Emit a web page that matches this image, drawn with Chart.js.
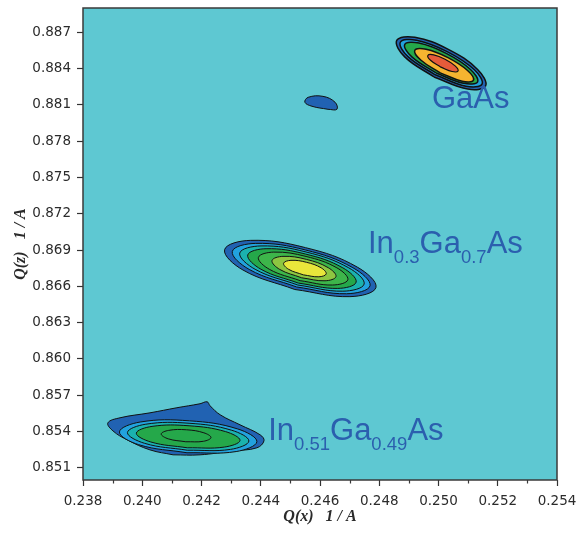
<!DOCTYPE html>
<html>
<head>
<meta charset="utf-8">
<title>Reciprocal space map</title>
<script src="https://cdn.jsdelivr.net/npm/chart.js@4.4.0/dist/chart.umd.min.js"></script>
<style>
  html, body { margin: 0; padding: 0; background: #fff; }
  #wrap { width: 577px; height: 533px; }
</style>
</head>
<body>
<div id="wrap"><canvas id="rsm" width="577" height="533"></canvas></div>
<script>
  // Axis ticks
  const xTicks = [0.238, 0.240, 0.242, 0.244, 0.246, 0.248, 0.250, 0.252, 0.254];
  const xMinorTicks = [0.239, 0.241, 0.243, 0.245, 0.247, 0.249, 0.251, 0.253];
  const yTicks = [0.851, 0.854, 0.857, 0.860, 0.863, 0.866, 0.869, 0.872, 0.875, 0.878, 0.881, 0.884, 0.887];

  // GaAs substrate peak, contours from outer to inner, [Qx, Qz]
  const gaasBlue = [[0.25159, 0.88256], [0.25099, 0.88230], [0.24985, 0.88330], [0.24886, 0.88496], [0.24859, 0.88632], [0.24920, 0.88658], [0.25033, 0.88558], [0.25132, 0.88392]];
  const gaasLightBlue = [[0.25147, 0.88271], [0.25093, 0.88254], [0.24989, 0.88348], [0.24897, 0.88498], [0.24871, 0.88617], [0.24925, 0.88634], [0.25029, 0.88540], [0.25121, 0.88390]];
  const gaasGreen = [[0.25132, 0.88290], [0.25084, 0.88278], [0.24992, 0.88363], [0.24910, 0.88496], [0.24886, 0.88598], [0.24934, 0.88610], [0.25026, 0.88525], [0.25108, 0.88392]];
  const gaasYellow = [[0.25118, 0.88303], [0.25080, 0.88295], [0.25006, 0.88364], [0.24940, 0.88470], [0.24920, 0.88551], [0.24958, 0.88559], [0.25032, 0.88490], [0.25098, 0.88384]];
  const gaasRed = [[0.25066, 0.88380], [0.25046, 0.88375], [0.25008, 0.88411], [0.24974, 0.88466], [0.24964, 0.88508], [0.24984, 0.88513], [0.25022, 0.88477], [0.25056, 0.88422]];
  // small spot next to GaAs
  const spotBlue = [[0.24549, 0.88121], [0.24560, 0.88162], [0.24610, 0.88170], [0.24651, 0.88121], [0.24657, 0.88063], [0.24627, 0.88063], [0.24573, 0.88088]];

  // In0.3Ga0.7As layer peak
  const in30Blue = [[0.24789, 0.86591], [0.24701, 0.86515], [0.24515, 0.86574], [0.24340, 0.86735], [0.24278, 0.86903], [0.24365, 0.86980], [0.24551, 0.86920], [0.24726, 0.86759]];
  const in30LightBlue = [[0.24769, 0.86605], [0.24689, 0.86539], [0.24521, 0.86595], [0.24361, 0.86740], [0.24304, 0.86889], [0.24383, 0.86955], [0.24552, 0.86900], [0.24711, 0.86754]];
  const in30Teal = [[0.24749, 0.86619], [0.24677, 0.86560], [0.24525, 0.86611], [0.24381, 0.86741], [0.24329, 0.86875], [0.24401, 0.86934], [0.24553, 0.86884], [0.24697, 0.86753]];
  const in30Green = [[0.24722, 0.86635], [0.24660, 0.86583], [0.24527, 0.86627], [0.24401, 0.86741], [0.24356, 0.86859], [0.24418, 0.86911], [0.24551, 0.86867], [0.24677, 0.86753]];
  const in30Green2 = [[0.24694, 0.86655], [0.24642, 0.86611], [0.24533, 0.86647], [0.24429, 0.86741], [0.24392, 0.86839], [0.24444, 0.86883], [0.24553, 0.86847], [0.24657, 0.86753]];
  const in30LightGreen = [[0.24654, 0.86681], [0.24617, 0.86646], [0.24538, 0.86671], [0.24464, 0.86740], [0.24438, 0.86813], [0.24475, 0.86848], [0.24554, 0.86823], [0.24628, 0.86754]];
  const in30Yellow = [[0.24621, 0.86703], [0.24596, 0.86679], [0.24544, 0.86695], [0.24494, 0.86741], [0.24477, 0.86791], [0.24502, 0.86815], [0.24554, 0.86799], [0.24604, 0.86753]];

  // In0.51Ga0.49As layer peak
  const in51Blue = [[0.23884, 0.85472], [0.23925, 0.85514], [0.24026, 0.85555], [0.24117, 0.85597], [0.24195, 0.85630], [0.24219, 0.85646], [0.24229, 0.85613], [0.24263, 0.85539], [0.24330, 0.85456], [0.24398, 0.85373], [0.24411, 0.85324], [0.24387, 0.85266], [0.24306, 0.85241], [0.24195, 0.85208], [0.24104, 0.85208], [0.24026, 0.85249], [0.23949, 0.85332], [0.23901, 0.85406]];
  const in51LightBlue = [[0.24387, 0.85317], [0.24317, 0.85235], [0.24151, 0.85225], [0.23988, 0.85292], [0.23923, 0.85397], [0.23993, 0.85479], [0.24159, 0.85489], [0.24322, 0.85422]];
  const in51Teal = [[0.24360, 0.85322], [0.24298, 0.85253], [0.24152, 0.85246], [0.24008, 0.85303], [0.23950, 0.85392], [0.24012, 0.85461], [0.24158, 0.85469], [0.24302, 0.85411]];
  const in51Green = [[0.24330, 0.85327], [0.24277, 0.85272], [0.24152, 0.85266], [0.24029, 0.85314], [0.23980, 0.85387], [0.24033, 0.85443], [0.24158, 0.85448], [0.24281, 0.85400]];
  const in51Core = [[0.24232, 0.85351], [0.24207, 0.85320], [0.24147, 0.85316], [0.24088, 0.85340], [0.24064, 0.85380], [0.24089, 0.85410], [0.24149, 0.85415], [0.24208, 0.85390]];

  // Peak labels: text parts ([text, isSubscript]) and anchor in data units
  const peakLabels = [
    { parts: [["GaAs", 0]], x: 0.24978, y: 0.88071 },
    { parts: [["In", 0], ["0.3", 1], ["Ga", 0], ["0.7", 1], ["As", 0]], x: 0.24762, y: 0.86879 },
    { parts: [["In", 0], ["0.51", 1], ["Ga", 0], ["0.49", 1], ["As", 0]], x: 0.24425, y: 0.85332 },
  ];

  // Colours
  const BG = "#5ec8d2";
  const C_BLUE = "#2162b2";
  const C_LBLUE = "#22a2de";
  const C_TEAL = "#1bb2ae";
  const C_GREEN = "#25a84a";
  const C_GREEN2 = "#3db54a";
  const C_LGREEN = "#8dc641";
  const C_YELLOW = "#e9e63b";
  const C_ORANGE = "#f5b430";
  const C_RED = "#e65b3a";
  const LABEL_BLUE = "#2b5fae";

  // outer -> inner so that inner ones end up on top
  // start: index where the closed path begins (a flat side hides the seam)
  const contours = [
    { pts: gaasBlue, color: C_BLUE, lw: 1.5, start: 2 },
    { pts: gaasLightBlue, color: C_LBLUE, lw: 1.5, start: 2 },
    { pts: gaasGreen, color: C_GREEN, lw: 1.5, start: 2 },
    { pts: gaasYellow, color: C_ORANGE, lw: 1.5, start: 2 },
    { pts: gaasRed, color: C_RED, lw: 1.2, start: 2 },
    { pts: spotBlue, color: C_BLUE, lw: 1, start: 5 },
    { pts: in30Blue, color: C_BLUE, lw: 1, start: 2 },
    { pts: in30LightBlue, color: C_LBLUE, lw: 1, start: 2 },
    { pts: in30Teal, color: C_TEAL, lw: 1, start: 2 },
    { pts: in30Green, color: C_GREEN, lw: 1, start: 2 },
    { pts: in30Green2, color: C_GREEN2, lw: 1, start: 2 },
    { pts: in30LightGreen, color: C_LGREEN, lw: 1, start: 2 },
    { pts: in30Yellow, color: C_YELLOW, lw: 1, start: 2 },
    { pts: in51Blue, color: C_BLUE, lw: 1, start: 14 },
    { pts: in51LightBlue, color: C_LBLUE, lw: 1, start: 2 },
    { pts: in51Teal, color: C_TEAL, lw: 1, start: 2 },
    { pts: in51Green, color: C_GREEN, lw: 1, start: 2 },
    { pts: in51Core, color: C_GREEN, lw: 1, start: 2 },
  ];

  const datasets = contours.map((c, i) => {
    const ring = c.pts.slice(c.start).concat(c.pts.slice(0, c.start + 1));
    return {
      data: ring.map(([x, y]) => ({ x: x, y: y })),
      showLine: true,
      fill: "shape",
      backgroundColor: c.color,
      borderColor: "#111",
      borderWidth: c.lw,
      tension: 0.4,
      pointRadius: 0,
      order: contours.length - i,
    };
  });

  // Background, frame, minor ticks and peak labels
  const decorPlugin = {
    id: "rsmDecor",
    beforeDraw(chart) {
      const { ctx, chartArea: a } = chart;
      ctx.save();
      ctx.fillStyle = "#fff";
      ctx.fillRect(0, 0, chart.width, chart.height);
      ctx.fillStyle = BG;
      ctx.fillRect(a.left, a.top, a.right - a.left, a.bottom - a.top);
      ctx.restore();
    },
    afterDatasetsDraw(chart) {
      const { ctx, chartArea: a, scales } = chart;
      ctx.save();
      ctx.strokeStyle = "#3a3a3a";
      ctx.lineWidth = 1.5;
      ctx.strokeRect(a.left, a.top, a.right - a.left, a.bottom - a.top);

      ctx.lineWidth = 1.2;
      ctx.beginPath();
      xMinorTicks.forEach((v) => {
        const px = Math.round(scales.x.getPixelForValue(v)) + 0.5;
        ctx.moveTo(px, a.bottom);
        ctx.lineTo(px, a.bottom + 3.5);
      });
      ctx.stroke();

      ctx.fillStyle = LABEL_BLUE;
      ctx.textBaseline = "alphabetic";
      peakLabels.forEach((lab) => {
        let px = scales.x.getPixelForValue(lab.x);
        const py = scales.y.getPixelForValue(lab.y);
        lab.parts.forEach(([t, sub]) => {
          ctx.font = sub
            ? '18.5px "Liberation Sans", Arial, sans-serif'
            : '31px "Liberation Sans", Arial, sans-serif';
          ctx.fillText(t, px, sub ? py + 10 : py);
          px += ctx.measureText(t).width;
        });
      });
      ctx.restore();
    },
  };

  const tickFont = { family: '"DejaVu Sans", Verdana, sans-serif', size: 13.5 };
  const titleFont = { family: '"Liberation Serif", "Times New Roman", serif', size: 16, style: "italic", weight: "bold" };

  new Chart(document.getElementById("rsm"), {
    type: "scatter",
    data: { datasets: datasets },
    options: {
      responsive: false,
      animation: false,
      events: [],
      layout: { padding: { top: 8, right: 20, left: 0, bottom: 0 } },
      plugins: {
        legend: { display: false },
        tooltip: { enabled: false },
      },
      scales: {
        x: {
          type: "linear",
          min: 0.238,
          max: 0.254,
          afterBuildTicks: (s) => {
            s.ticks = xTicks.map((v) => ({ value: v }));
          },
          afterFit: (s) => {
            s.height = 53;
            s.paddingLeft = 0;
            s.paddingRight = 0;
          },
          ticks: {
            font: tickFont,
            color: "#2b2b2b",
            padding: 7,
            maxRotation: 0,
            callback: (v) => Number(v).toFixed(3),
          },
          grid: { drawOnChartArea: false, tickLength: 6, tickColor: "#333", tickWidth: 1.2 },
          border: { display: false },
          title: { display: true, text: "Q(x)   1 / A", font: titleFont, color: "#2b2b2b", padding: { top: 0, bottom: 7 } },
        },
        y: {
          type: "linear",
          min: 0.85,
          max: 0.889,
          afterBuildTicks: (s) => {
            s.ticks = yTicks.map((v) => ({ value: v }));
          },
          afterFit: (s) => {
            s.width = 83;
            s.paddingTop = 0;
            s.paddingBottom = 0;
          },
          ticks: {
            font: tickFont,
            color: "#2b2b2b",
            padding: 6,
            callback: (v) => Number(v).toFixed(3),
          },
          grid: { drawOnChartArea: false, tickLength: 6, tickColor: "#333", tickWidth: 1.2 },
          border: { display: false },
          title: { display: true, text: "Q(z)   1 / A", font: titleFont, color: "#2b2b2b", padding: { top: 11, bottom: 0 } },
        },
      },
    },
    plugins: [decorPlugin],
  });
</script>
</body>
</html>
